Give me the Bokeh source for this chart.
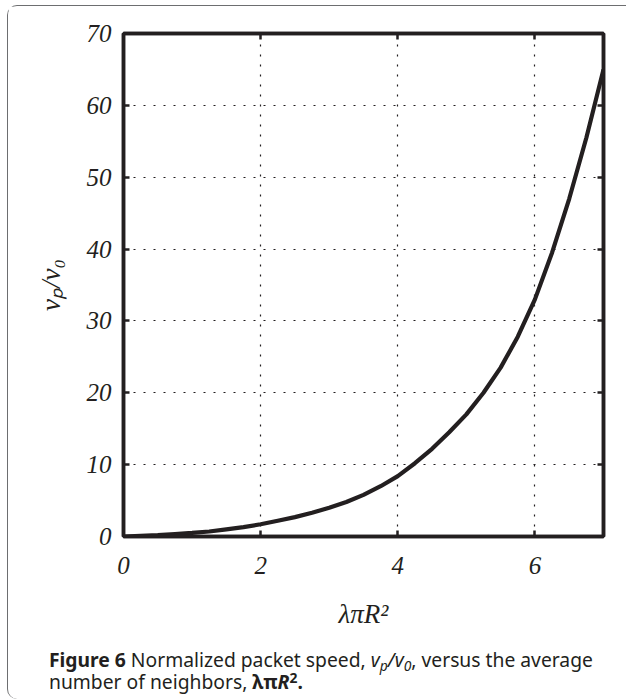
from bokeh.plotting import figure
from bokeh.models import LinearAxis, Range1d, FixedTicker, Div
from bokeh.layouts import column
from bokeh.embed import file_html
from bokeh.resources import INLINE

# ---- data ----
x_vals = [0.0, 0.25, 0.5, 0.75, 1.0, 1.25, 1.5, 1.75, 2.0, 2.25, 2.5, 2.75, 3.0,
          3.25, 3.5, 3.75, 4.0, 4.25, 4.5, 4.75, 5.0, 5.25, 5.5, 5.75, 6.0,
          6.25, 6.5, 6.75, 7.0]
y_vals = [0.0, 0.1, 0.2, 0.35, 0.5, 0.7, 1.0, 1.3, 1.7, 2.2, 2.7, 3.3, 4.0,
          4.8, 5.8, 7.0, 8.4, 10.2, 12.2, 14.5, 17.0, 20.0, 23.5, 27.8, 33.0,
          39.5, 47.0, 55.5, 65.0]
x_ticks = [0, 2, 4, 6]
y_ticks = [0, 10, 20, 30, 40, 50, 60, 70]
x_title = "λπR²"
y_title = "vₚ/v₀"

SUB = "<span style='font-size:0.72em;position:relative;top:0.3em;line-height:0'>{}</span>"
SUP = "<span style='font-size:0.72em;position:relative;top:-0.45em;line-height:0'>{}</span>"
caption_html = ("<b>Figure 6</b> Normalized packet speed, "
                "<i>v" + SUB.format("p") + "/v" + SUB.format("0") + "</i>, versus the average<br>"
                "number of neighbors, <b>λπ<i>R</i>" + SUP.format("2") + ".</b>")

INK = "#231f20"
EDGE = "#6d6e70"
OFF_X, OFF_Y = 8, 6          # panel border offset (left, top) incl. border line
W_IN = 626 - OFF_X
H_MAIN = 634

p = figure(width=W_IN, height=H_MAIN, output_backend="svg", toolbar_location=None,
           x_range=Range1d(0, 7), y_range=Range1d(0, 70),
           x_axis_label=x_title, y_axis_label=y_title,
           min_border_left=123 - OFF_X, min_border_right=23,
           min_border_top=33 - OFF_Y, min_border_bottom=H_MAIN - (536 - OFF_Y))
p.background_fill_color = "white"
p.border_fill_color = "white"
p.outline_line_color = INK
p.outline_line_width = 3.5

for ax, ticks in ((p.xaxis[0], x_ticks), (p.yaxis[0], y_ticks)):
    ax.ticker = FixedTicker(ticks=ticks)
    ax.major_tick_in = 6
    ax.major_tick_out = 0
    ax.major_tick_line_width = 2.5
    ax.major_tick_line_color = INK
    ax.minor_tick_line_color = None
    ax.axis_line_color = INK
    ax.axis_line_width = 3.5
    ax.major_label_text_font = "Liberation Serif"
    ax.major_label_text_font_style = "italic"
    ax.major_label_text_font_size = "25px"
    ax.major_label_text_color = INK
    ax.axis_label_text_font = "Liberation Serif"
    ax.axis_label_text_font_style = "italic"
    ax.axis_label_text_font_size = "27px"
    ax.axis_label_text_color = INK

p.xaxis[0].major_label_standoff = 20
p.xaxis[0].axis_label_standoff = 22
p.yaxis[0].major_label_standoff = 12
p.yaxis[0].axis_label_standoff = 18

for loc, ticks in (("above", x_ticks), ("right", y_ticks)):
    ax = LinearAxis(ticker=FixedTicker(ticks=ticks))
    ax.major_tick_in = 6
    ax.major_tick_out = 0
    ax.major_tick_line_width = 2.5
    ax.major_tick_line_color = INK
    ax.minor_tick_line_color = None
    ax.axis_line_color = INK
    ax.axis_line_width = 3.5
    ax.major_label_overrides = {t: "" for t in ticks}
    ax.major_label_text_font_size = "1px"
    ax.major_label_standoff = 0
    p.add_layout(ax, loc)

p.xgrid.ticker = FixedTicker(ticks=x_ticks)
p.ygrid.ticker = FixedTicker(ticks=y_ticks)
for g in (p.xgrid[0], p.ygrid[0]):
    g.grid_line_color = INK
    g.grid_line_width = 1.2
    g.grid_line_dash = "2 8"
    g.grid_line_alpha = 1.0

p.line(x_vals, y_vals, line_color=INK, line_width=4.2)

# ---- caption ----
cap = Div(text=caption_html, width=575, height=50,
          margin=(9, 0, 0, 49 - OFF_X),
          styles={"font-family": "'Noto Sans', sans-serif",
                  "font-size": "19.3px", "line-height": "22px",
                  "color": INK, "white-space": "nowrap"})

layout = column(p, cap, spacing=0, margin=(OFF_Y - 1, 0, 0, OFF_X - 1),
                styles={"border-left": "1.3px solid " + EDGE,
                        "border-top": "1.3px solid " + EDGE,
                        "border-top-left-radius": "10px",
                        "border-bottom-left-radius": "10px",
                        "background-color": "white"})

open("out.html", "w").write(file_html(layout, INLINE))
